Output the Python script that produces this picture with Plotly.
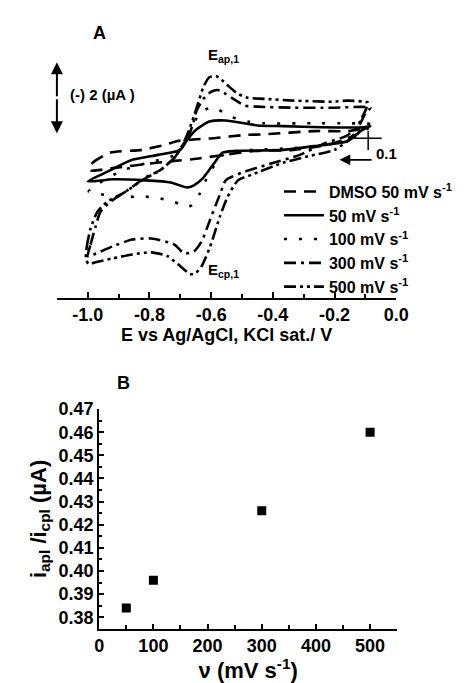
import plotly.graph_objects as go

# ---------------- Panel A: cyclic voltammograms (E in V, current in uA, arbitrary offset) -------------
dmso_E = [-0.997, -0.984, -0.928, -0.825, -0.750, -0.709, -0.647, -0.594, -0.491, -0.428, -0.263, -0.156, -0.109,
          -0.122, -0.209, -0.334, -0.459, -0.584, -0.647, -0.719, -0.803, -0.906, -0.991, -0.997]
dmso_I = [0.39, 0.53, 0.81, 0.89, 1.03, 1.14, 1.19, 1.22, 1.31, 1.33, 1.42, 1.42, 1.47,
          1.36, 1.06, 0.89, 0.86, 0.72, 0.64, 0.58, 0.50, 0.39, 0.31, 0.39]

v50_E = [-1.000, -0.928, -0.856, -0.772, -0.700, -0.678, -0.647, -0.606, -0.553, -0.450, -0.366, -0.241, -0.106, -0.084,
         -0.100, -0.116, -0.156, -0.263, -0.366, -0.522, -0.563, -0.594, -0.625, -0.656, -0.678, -0.731, -0.813, -0.919, -1.000]
v50_I = [0.00, 0.31, 0.61, 0.75, 0.89, 1.17, 1.47, 1.69, 1.72, 1.58, 1.56, 1.53, 1.53, 1.56,
         1.50, 1.42, 1.14, 1.00, 0.89, 0.86, 0.81, 0.47, 0.11, -0.11, -0.17, -0.03, 0.03, 0.06, 0.00]

v100_E = [-0.997, -0.959, -0.888, -0.803, -0.725, -0.694, -0.669, -0.647, -0.625, -0.600, -0.578, -0.531, -0.481,
          -0.428, -0.272, -0.156, -0.069,
          -0.091, -0.131, -0.209, -0.334, -0.459, -0.553, -0.584, -0.616, -0.638, -0.663, -0.678, -0.719, -0.772,
          -0.825, -0.875, -0.959, -0.997]
v100_I = [-0.28, -0.03, 0.31, 0.53, 0.72, 1.00, 1.44, 1.78, 2.00, 2.08, 2.03, 1.81, 1.69,
          1.64, 1.64, 1.64, 1.61,
          1.50, 1.28, 1.06, 0.94, 0.89, 0.81, 0.53, 0.06, -0.36, -0.67, -0.72, -0.58, -0.47,
          -0.42, -0.44, -0.36, -0.28]

v300_E = [-1.000, -0.991, -0.975, -0.959, -0.928, -0.866, -0.813, -0.763, -0.719, -0.694, -0.669, -0.656, -0.647,
          -0.625, -0.600, -0.578, -0.553, -0.528, -0.491, -0.450, -0.334, -0.209, -0.084,
          -0.100, -0.122, -0.163, -0.231, -0.313, -0.419, -0.500, -0.553, -0.569, -0.584, -0.606, -0.631, -0.656,
          -0.688, -0.719, -0.794, -0.856, -0.919, -0.981, -1.000]
v300_I = [-2.11, -1.78, -1.28, -0.86, -0.58, -0.22, 0.11, 0.33, 0.67, 1.00, 1.36, 1.72, 2.00,
          2.33, 2.53, 2.58, 2.47, 2.33, 2.14, 2.11, 2.08, 2.08, 2.08,
          1.92, 1.56, 1.28, 1.08, 0.75, 0.47, 0.25, 0.03, -0.31, -0.64, -1.14, -1.69, -1.97,
          -2.03, -1.78, -1.61, -1.64, -1.83, -2.06, -2.11]

v500_E = [-1.006, -1.003, -0.991, -0.969, -0.938, -0.881, -0.819, -0.763, -0.719, -0.694, -0.672, -0.653, -0.638,
          -0.625, -0.606, -0.584, -0.569, -0.544, -0.513, -0.481, -0.428, -0.334, -0.209, -0.156, -0.091,
          -0.097, -0.116, -0.141, -0.200, -0.281, -0.366, -0.469, -0.513, -0.547, -0.572, -0.603, -0.631, -0.653,
          -0.669, -0.700, -0.741, -0.794, -0.856, -0.919, -0.975, -0.997, -1.006]
v500_I = [-2.19, -1.83, -1.33, -0.86, -0.58, -0.31, 0.06, 0.33, 0.67, 1.00, 1.44, 1.92, 2.33,
          2.67, 2.94, 2.97, 2.89, 2.69, 2.47, 2.36, 2.33, 2.28, 2.25, 2.28, 2.22,
          2.06, 1.72, 1.28, 0.89, 0.72, 0.53, 0.19, 0.03, -0.44, -1.00, -1.83, -2.39, -2.61,
          -2.61, -2.39, -2.11, -2.00, -2.06, -2.17, -2.28, -2.33, -2.19]

series_names = ["DMSO 50 mV s<sup>-1</sup>", "50 mV s<sup>-1</sup>", "100 mV s<sup>-1</sup>",
                "300 mV s<sup>-1</sup>", "500 mV s<sup>-1</sup>"]

xA_tickvals = [-1.0, -0.8, -0.6, -0.4, -0.2, 0.0]
xA_ticktext = ["-1.0", "-0.8", "-0.6", "-0.4", "-0.2", "0.0"]

# ---------------- Panel B: peak current ratio vs scan rate -------------
scan_rate = [50, 100, 300, 500]
ratio = [0.384, 0.396, 0.426, 0.460]
yB_tickvals = [0.38, 0.39, 0.40, 0.41, 0.42, 0.43, 0.44, 0.45, 0.46, 0.47]
yB_ticktext = ["0.38", "0.39", "0.40", "0.41", "0.42", "0.43", "0.44", "0.45", "0.46", "0.47"]
xB_tickvals = [0, 100, 200, 300, 400, 500]

FONT = "Liberation Sans, Arial, Helvetica, sans-serif"
W, H = 465, 683

dashes = ["12px,8px", "solid", "3px,12px", "12px,5px,3px,5px", "12px,4px,3px,4px,3px,4px"]
curves = [(dmso_E, dmso_I), (v50_E, v50_I), (v100_E, v100_I), (v300_E, v300_I), (v500_E, v500_I)]

fig = go.Figure()
for (ex, iy), name, d in zip(curves, series_names, dashes):
    fig.add_trace(go.Scatter(x=ex, y=iy, mode="lines", name=name,
                             line=dict(color="black", width=2.6, dash=d, shape="spline", smoothing=0.6),
                             xaxis="x", yaxis="y"))

fig.add_trace(go.Scatter(x=scan_rate, y=ratio, mode="markers", showlegend=False,
                         marker=dict(symbol="square", size=9, color="black"),
                         xaxis="x2", yaxis="y2"))

axis_common = dict(showline=True, linecolor="black", linewidth=2, showgrid=False, zeroline=False,
                   ticks="inside", tickwidth=2, tickcolor="black", mirror=False)

fig.update_layout(
    width=W, height=H, autosize=False,
    margin=dict(l=0, r=0, t=0, b=0),
    paper_bgcolor="white", plot_bgcolor="white",
    font=dict(family=FONT, color="black", size=16, weight="bold"),
    xaxis=dict(domain=[54 / W, 407 / W], range=[-1.1, 0.0], anchor="y",
               tickvals=xA_tickvals, ticktext=xA_ticktext, ticklen=6,
               minor=dict(ticks="inside", ticklen=4, tickwidth=1.5, tick0=0, dtick=0.1, tickcolor="black"),
               tickfont=dict(size=18, weight="bold"),
               title=dict(text="E vs Ag/AgCl, KCl sat./ V", font=dict(size=18, weight="bold"), standoff=4),
               **axis_common),
    yaxis=dict(domain=[1 - 292 / H, 1 - 20 / H], range=[-3.28, 4.28], visible=False, anchor="x"),
    xaxis2=dict(domain=[98 / W, 408 / W], range=[0, 550], anchor="y2",
                tickvals=xB_tickvals, ticklen=5,
                minor=dict(ticks="inside", ticklen=4, tickwidth=1.5, tick0=0, dtick=50, tickcolor="black"),
                tickfont=dict(size=18, weight="bold"),
                title=dict(text="ν (mV s<sup>-1</sup>)", font=dict(size=22, weight="bold"), standoff=2),
                **axis_common),
    yaxis2=dict(domain=[1 - 628 / H, 1 - 405 / H], range=[0.375, 0.47], anchor="x2",
                tickvals=yB_tickvals, ticktext=yB_ticktext, ticklen=5,
                minor=dict(ticks="inside", ticklen=3, tickwidth=1.5, tick0=0.375, dtick=0.005, tickcolor="black"),
                tickfont=dict(size=18, weight="bold"),
                title=dict(text="i<sub>apl</sub> /i<sub>cpl</sub> (µA)", font=dict(size=22, weight="bold"), standoff=6),
                **axis_common),
    legend=dict(x=285 / W, y=1 - 167 / H, xanchor="left", yanchor="top", bgcolor="rgba(0,0,0,0)",
                font=dict(size=16, weight="bold"), itemwidth=40, tracegroupgap=0),
    showlegend=True,
)

ann = [
    dict(text="A", x=98 / W, y=1 - 23 / H, xref="paper", yref="paper", showarrow=False,
         xanchor="center", yanchor="middle", font=dict(size=18, weight="bold")),
    dict(text="B", x=123 / W, y=1 - 379 / H, xref="paper", yref="paper", showarrow=False,
         xanchor="center", yanchor="middle", font=dict(size=18, weight="bold")),
    dict(text="E<sub>ap,1</sub>", x=-0.56, y=3.55, xref="x", yref="y", showarrow=False,
         xanchor="center", yanchor="middle", font=dict(size=15, weight="bold")),
    dict(text="E<sub>cp,1</sub>", x=-0.56, y=-2.52, xref="x", yref="y", showarrow=False,
         xanchor="center", yanchor="middle", font=dict(size=15, weight="bold")),
    dict(text="(-) 2 (µA )", x=-1.065, y=2.45, xref="x", yref="y", showarrow=False,
         xanchor="left", yanchor="middle", font=dict(size=15, weight="bold")),
    dict(text="0.1", x=-0.031, y=0.8, xref="x", yref="y", showarrow=False,
         xanchor="center", yanchor="middle", font=dict(size=15, weight="bold")),
    # double-headed scale arrow
    dict(x=-1.1, y=3.36, ax=-1.1, ay=2.36, xref="x", yref="y", axref="x", ayref="y", text="",
         showarrow=True, arrowhead=2, arrowsize=1.2, arrowwidth=2, arrowcolor="black"),
    dict(x=-1.1, y=1.36, ax=-1.1, ay=2.36, xref="x", yref="y", axref="x", ayref="y", text="",
         showarrow=True, arrowhead=2, arrowsize=1.2, arrowwidth=2, arrowcolor="black"),
    # scan direction arrow
    dict(x=-0.184, y=0.61, ax=-0.075, ay=0.61, xref="x", yref="y", axref="x", ayref="y", text="",
         showarrow=True, arrowhead=2, arrowsize=1.2, arrowwidth=1.8, arrowcolor="black"),
]
fig.update_layout(annotations=ann)

shapes = [
    dict(type="line", xref="x", yref="y", x0=-0.1375, x1=-0.047, y0=1.22, y1=1.22,
         line=dict(color="black", width=1.5)),
    dict(type="line", xref="x", yref="y", x0=-0.091, x1=-0.091, y0=1.42, y1=0.89,
         line=dict(color="black", width=1.5)),
]
fig.update_layout(shapes=shapes)

fig.write_html("out.html",
               config={"displayModeBar": False, "responsive": False},
               post_script="document.body.style.margin='0';document.body.style.overflow='hidden';"
                           "document.documentElement.style.overflow='hidden';")
